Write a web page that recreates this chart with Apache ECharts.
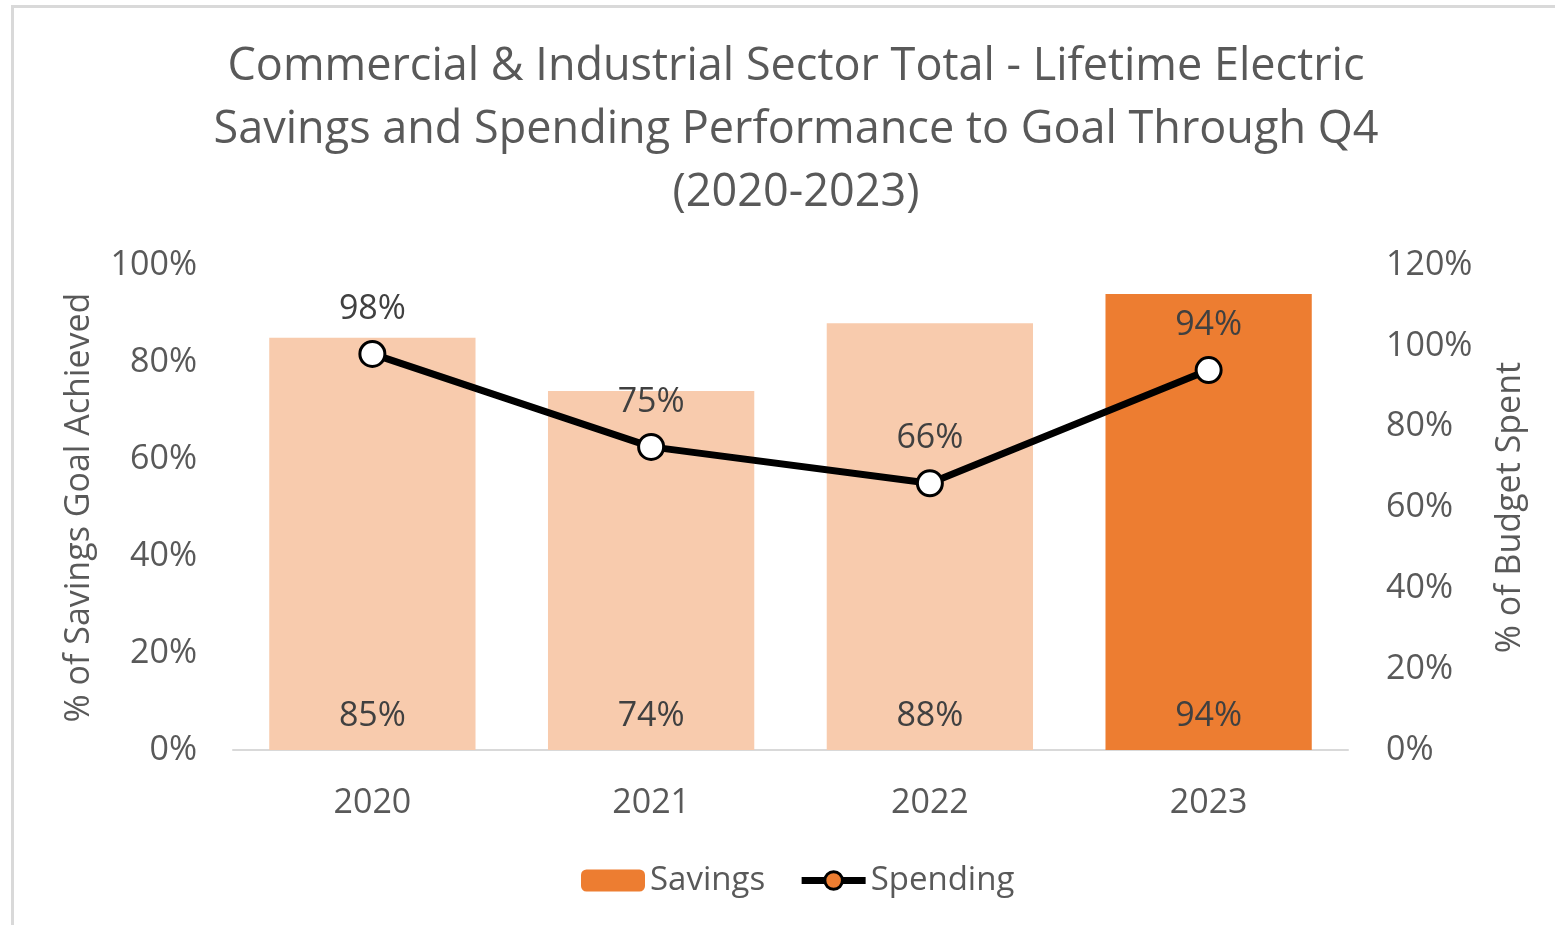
<!DOCTYPE html>
<html>
<head>
<meta charset="utf-8">
<script src="https://cdn.jsdelivr.net/npm/echarts@6/dist/echarts.min.js"></script>
<style>
  html, body { margin: 0; padding: 0; background: #fff; }
  #frame { position: absolute; left: 11px; top: 5px; width: 1560px; height: 940px; border-left: 3px solid #d9d9d9; border-top: 3px solid #d9d9d9; box-sizing: border-box; }
  #chart { position: absolute; left: 0; top: 0; width: 1555px; height: 925px; }
</style>
</head>
<body>
<div id="frame"></div>
<div id="chart"></div>
<script>
const years = ['2020', '2021', '2022', '2023'];
const savings = [85, 74, 88, 94];   // % of savings goal achieved
const spending = [98, 75, 66, 94];  // % of budget spent
const leftTicks = [0, 20, 40, 60, 80, 100];
const rightTicks = [0, 20, 40, 60, 80, 100, 120];

const FONT = '"Open Sans", "Noto Sans", sans-serif';
const LIGHT = '#F8CBAD';
const DARK = '#ED7D31';
const TXT = 34;

const chart = echarts.init(document.getElementById('chart'));

const option = {
  animation: false,
  textStyle: { fontFamily: FONT },
  title: {
    text: 'Commercial & Industrial Sector Total - Lifetime Electric\nSavings and Spending Performance to Goal Through Q4\n(2020-2023)',
    left: 791,
    top: 31,
    textAlign: 'center',
    textStyle: {
      fontFamily: FONT,
      fontSize: 45,
      fontWeight: 'normal',
      color: '#595959',
      lineHeight: 63
    }
  },
  legend: {
    top: 859,
    left: 576,
    itemWidth: 64,
    itemHeight: 22,
    itemGap: 33,
    textStyle: { fontFamily: FONT, fontSize: 33, color: '#595959' },
    data: [
      { name: 'Savings', itemStyle: { color: DARK } },
      {
        name: 'Spending',
        itemStyle: { color: DARK, borderColor: '#000', borderWidth: 3 },
        lineStyle: { color: '#000', width: 7 }
      }
    ]
  },
  grid: { left: 233, right: 207, top: 265, bottom: 175 },
  xAxis: {
    type: 'category',
    data: years,
    axisLine: { show: true, lineStyle: { color: '#D9D9D9', width: 2 } },
    axisTick: { show: false },
    axisLabel: { color: '#595959', fontSize: TXT, margin: 36, fontFamily: FONT }
  },
  yAxis: [{
    type: 'value',
    min: leftTicks[0],
    max: leftTicks[leftTicks.length - 1],
    interval: 20,
    name: '% of Savings Goal Achieved',
    nameLocation: 'middle',
    nameGap: 137,
    nameTextStyle: { color: '#595959', fontSize: TXT, fontFamily: FONT },
    splitLine: { show: false },
    axisLine: { show: false },
    axisTick: { show: false },
    axisLabel: { color: '#595959', fontSize: TXT, margin: 36, fontFamily: FONT, formatter: '{value}%' }
  }, {
    type: 'value',
    position: 'right',
    min: rightTicks[0],
    max: rightTicks[rightTicks.length - 1],
    interval: 20,
    name: '% of Budget Spent',
    nameLocation: 'middle',
    nameGap: 145,
    nameRotate: 90,
    nameTextStyle: { color: '#595959', fontSize: TXT, fontFamily: FONT },
    splitLine: { show: false },
    axisLine: { show: false },
    axisTick: { show: false },
    axisLabel: { color: '#595959', fontSize: TXT, margin: 38, fontFamily: FONT, formatter: '{value}%' }
  }],
  series: [{
    name: 'Savings',
    type: 'bar',
    yAxisIndex: 0,
    barCategoryGap: '26%',
    data: savings.map((v, i) => ({
      value: v,
      itemStyle: { color: i === savings.length - 1 ? DARK : LIGHT }
    })),
    label: {
      show: true,
      position: 'insideBottom',
      distance: 17,
      color: '#404040',
      fontSize: TXT,
      fontFamily: FONT,
      formatter: '{c}%'
    }
  }, {
    name: 'Spending',
    type: 'line',
    yAxisIndex: 1,
    data: spending,
    symbol: 'circle',
    symbolSize: 25,
    lineStyle: { color: '#000', width: 7 },
    itemStyle: { color: '#fff', borderColor: '#000', borderWidth: 3 },
    label: {
      show: true,
      position: 'top',
      distance: 14,
      color: '#404040',
      fontSize: TXT,
      fontFamily: FONT,
      formatter: '{c}%'
    },
    z: 5
  }]
};

chart.setOption(option);
</script>
</body>
</html>
